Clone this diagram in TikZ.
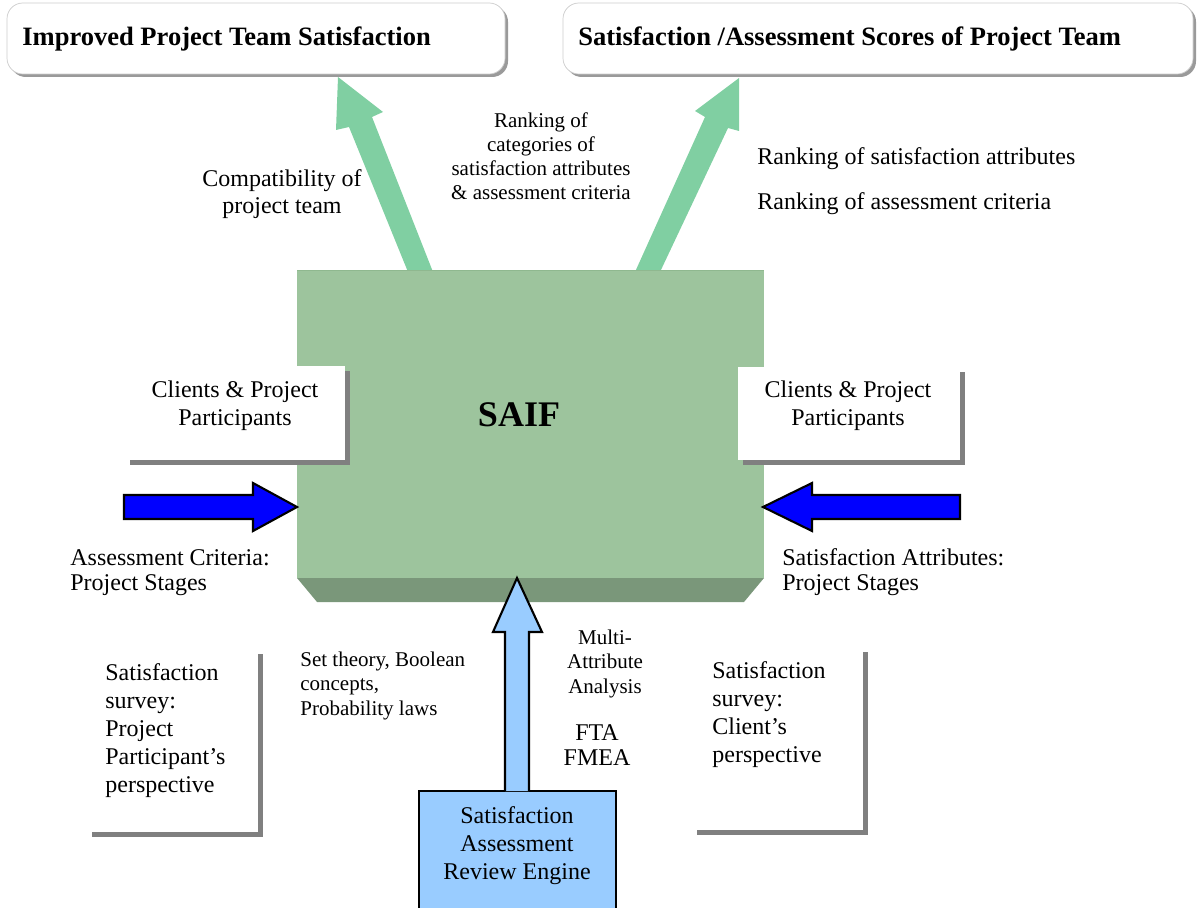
\documentclass[tikz,border=0pt]{standalone}
\usepackage{fontspec}
\setmainfont{Liberation Serif}
\definecolor{arrgreen}{HTML}{80CFA2}
\definecolor{saifface}{HTML}{9DC49D}
\definecolor{saifbottom}{HTML}{7A977A}
\definecolor{saifedge}{HTML}{8FB88F}
\definecolor{lightblue}{HTML}{99CCFF}
\definecolor{shadowgray}{HTML}{808080}
\tikzset{
  txt/.style={inner sep=0pt, font=\fontsize{13.66}{15.9}\selectfont},
  smalltxt/.style={inner sep=0pt, font=\fontsize{11.95}{13.8}\selectfont},
  titletxt/.style={inner sep=0pt, font=\fontsize{15.1}{18}\selectfont\bfseries},
  shadowbox/.style={fill=white, draw=none},
  blockblue/.style={fill=blue, draw=black, line width=1.2pt, line join=miter},
  blocklight/.style={fill=lightblue, draw=black, line width=1.2pt, line join=miter},
}
\begin{document}
\begin{tikzpicture}[x=0.02cm,y=-0.02cm]
\useasboundingbox (0,0) rectangle (1202,908);
% ---- top boxes ----
\fill[shadowgray!80, rounded corners=9] (10,6) rectangle (508,77);
\draw[gray!40, fill=white, rounded corners=9] (7,3) rectangle (505,74);
\node[titletxt, anchor=base west] (t1) at (22,46) {Improved Project Team Satisfaction};
\fill[shadowgray!80, rounded corners=9] (566,6) rectangle (1196,77);
\draw[gray!40, fill=white, rounded corners=9] (563,3) rectangle (1193,74);
\node[titletxt, anchor=base west] (t2) at (578,46) {Satisfaction /Assessment Scores of Project Team};
% ---- green arrows ----
\fill[arrgreen] (408,272) -- (349,127) -- (336,130) -- (338,77) -- (383,112) -- (372,117) -- (433,272) -- cycle;
\fill[arrgreen] (635,272) -- (705,117) -- (695,111) -- (739,78) -- (739,131) -- (728,128) -- (660,272) -- cycle;
% ---- SAIF box ----
\fill[saifbottom] (297,578) -- (764,578) -- (744,602) -- (317,602) -- cycle;
\fill[saifface] (297,270) rectangle (764,578);
\draw[saifedge, line width=1pt] (297,270.5) -- (764,270.5);
\node[inner sep=0pt, font=\fontsize{20.5}{24}\selectfont\bfseries, anchor=base] (saif) at (519,426) {SAIF};
% ---- clients boxes ----
\fill[shadowgray] (130,371) rectangle (350,465);
\fill[shadowbox] (125,366) rectangle (345,460);
\node[txt, align=center, anchor=base] (cl) at (235,425) {Clients \& Project\\Participants};
\fill[shadowgray] (743,372) rectangle (965,465);
\fill[shadowbox] (738,367) rectangle (960,460);
\node[txt, align=center, anchor=base] (cr) at (848,425) {Clients \& Project\\Participants};
% ---- blue arrows ----
\draw[blockblue] (124,495) -- (253,495) -- (253,483) -- (297,507) -- (253,531) -- (253,519) -- (124,519) -- cycle;
\draw[blockblue] (960,495) -- (812,495) -- (812,483) -- (763,507) -- (812,531) -- (812,519) -- (960,519) -- cycle;
% ---- survey boxes ----
\fill[shadowgray] (92,654) rectangle (263,837);
\fill[shadowbox] (87,649) rectangle (258,832);
\node[txt, align=left, anchor=base west] (sl) at (105,792) {Satisfaction\\survey:\\Project\\Participant’s\\perspective};
\fill[shadowgray] (697,652) rectangle (868,835);
\fill[shadowbox] (692,647) rectangle (863,830);
\node[txt, align=left, anchor=base west] (sr) at (712,762) {Satisfaction\\survey:\\Client’s\\perspective};
% ---- SARE ----
\node[blocklight, minimum width=197*0.02cm, minimum height=118*0.02cm, anchor=north west, inner sep=0pt] (sare) at (418,790) {};
\node[txt, align=center, anchor=base] (saret) at (517,879) {Satisfaction\\Assessment\\Review Engine};
\draw[blocklight] (505,791) -- (505,632) -- (493,632) -- (517,578) -- (542,632) -- (529,632) -- (529,791);
% ---- labels ----
\node[txt, align=center, anchor=base] (compat) at (282,214) {Compatibility of\\project team};
\node[smalltxt, align=center, anchor=base] (rankcat) at (541,200) {Ranking of\\categories of\\satisfaction attributes\\\& assessment criteria};
\node[txt, anchor=base west] (rsa) at (757,165) {Ranking of satisfaction attributes};
\node[txt, anchor=base west] (rac) at (757,210) {Ranking of assessment criteria};
\node[txt, align=left, anchor=base west] (acps) at (70,590) {Assessment Criteria:\\[-2pt]Project Stages};
\node[txt, align=left, anchor=base west] (saps) at (782,590) {Satisfaction Attributes:\\[-2pt]Project Stages};
\node[smalltxt, align=left, anchor=base west] (setth) at (300,715) {Set theory, Boolean\\concepts,\\Probability laws};
\node[smalltxt, align=center, anchor=base] (maa) at (605,693) {Multi-\\Attribute\\Analysis};
\node[txt, align=center, anchor=base] (fta) at (597,765) {FTA\\[-2pt]FMEA};
\end{tikzpicture}
\end{document}
